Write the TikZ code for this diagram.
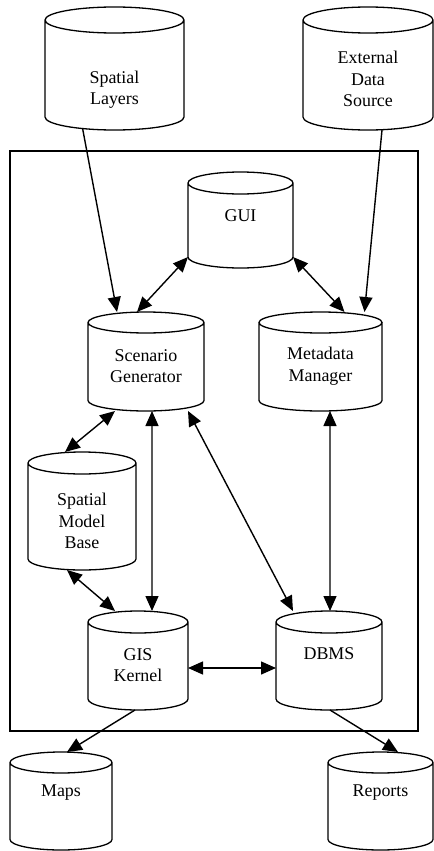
\documentclass[tikz,border=0pt]{standalone}
\usepackage{fontspec}
\setmainfont{Liberation Serif}
\usetikzlibrary{calc,arrows.meta}

\begin{document}
\begin{tikzpicture}[x=1bp,y=-1bp]

		% Define styles
		\tikzstyle{store} = [
		rectangle, draw=none, inner sep=0pt, outer sep=0pt]
		\tikzstyle{txt} = [
		text centered, align=center, inner sep=0pt,
		font=\fontsize{18}{21.5}\selectfont]
		\tikzstyle{rim} = [line width=1.3bp]
		\tikzstyle{arrow} = [line width=1.4bp,-{Triangle[length=15bp,width=13bp]}]
		\tikzstyle{both} = [line width=1.4bp,
		{Triangle[length=15bp,width=13bp]}-{Triangle[length=15bp,width=13bp]}]

		\useasboundingbox (0,0) rectangle (434,851);

		% System frame
		\draw[line width=1.8bp] (10,151) rectangle (418,731);

		% Nodes
		\node (layers) [store, minimum width=139bp, minimum height=123bp,
		label={[txt, name=layers-t, yshift=-21.5bp]center:Spatial\\Layers}] at (114.5,68.5) {};
		\node (extern) [store, minimum width=130bp, minimum height=123bp,
		label={[txt, name=extern-t, yshift=-10.5bp]center:External\\Data\\Source}] at (368,68.5) {};
		\node (gui) [store, minimum width=105bp, minimum height=96bp,
		label={[txt, name=gui-t, yshift=4bp]center:GUI}] at (240.5,220) {};
		\node (scen) [store, minimum width=116bp, minimum height=99bp,
		label={[txt, name=scen-t, yshift=-4.5bp]center:Scenario\\Generator}] at (146,361.5) {};
		\node (meta) [store, minimum width=123bp, minimum height=99bp,
		label={[txt, name=meta-t, yshift=-4.5bp]center:Metadata\\Manager}] at (320.5,361.5) {};
		\node (model) [store, minimum width=108bp, minimum height=118bp,
		label={[txt, name=model-t, yshift=-10bp]center:Spatial\\Model\\Base}] at (82,511) {};
		\node (kernel) [store, minimum width=100bp, minimum height=99bp,
		label={[txt, name=kernel-t, yshift=-4.5bp]center:GIS\\Kernel}] at (138,660.5) {};
		\node (dbms) [store, minimum width=106bp, minimum height=99bp,
		label={[txt, name=dbms-t, yshift=6.5bp]center:DBMS}] at (329,660.5) {};
		\node (maps) [store, minimum width=102bp, minimum height=98bp,
		label={[txt, name=maps-t, yshift=8bp]center:Maps}] at (61,801) {};
		\node (reports) [store, minimum width=105bp, minimum height=98bp,
		label={[txt, name=reports-t, yshift=8bp]center:Reports}] at (380.5,801) {};

		% Cylinder outlines (name/ellipse depth)
		\foreach \s/\r in {layers/13, extern/13, gui/11, scen/10.5, meta/10.5,
			model/11, kernel/11, dbms/11, maps/10.5, reports/10.5}
		\draw[rim] let \p1=(\s.north west), \p2=(\s.south east),
			\n1={(\x2-\x1)/2} in
			([yshift=-\r bp]\s.north west) -- ([yshift=\r bp]\s.south west)
			arc[start angle=180, end angle=360, x radius=\n1, y radius=\r bp]
			-- ([yshift=-\r bp]\s.north east)
			([yshift=-\r bp]\s.north) ellipse[x radius=\n1, y radius=\r bp];

		% Arrows
		\draw [arrow] ([xshift=-32bp,yshift=2bp]layers.south) -- ([xshift=-29bp]scen.north);
		\draw [arrow] ([xshift=14bp]extern.south) -- ([xshift=44bp]meta.north);
		\draw [both] ([yshift=-37bp]gui.west) -- ([xshift=-9bp]scen.north);
		\draw [both] ([yshift=-37bp]gui.east) -- ([xshift=24bp]meta.north);
		\draw [both] ([xshift=-31bp]scen.south) -- ([xshift=-17bp]model.north);
		\draw [both] ([xshift=6bp]scen.south) -- ([xshift=14bp]kernel.north);
		\draw [both] ([xshift=42bp]scen.south) -- ([xshift=-36bp]dbms.north);
		\draw [both] ([xshift=9.5bp]meta.south) -- ([xshift=1bp]dbms.north);
		\draw [both] ([xshift=-15bp]model.south) -- ([xshift=-23bp]kernel.north);
		\draw [both] ([yshift=-7.5bp]kernel.east) -- ([yshift=-7.5bp]dbms.west);
		\draw [arrow] ([xshift=-3bp]kernel.south) -- ([xshift=6bp]maps.north);
		\draw [arrow] ([xshift=1bp]dbms.south) -- ([xshift=17.5bp]reports.north);

	\end{tikzpicture}
\end{document}
